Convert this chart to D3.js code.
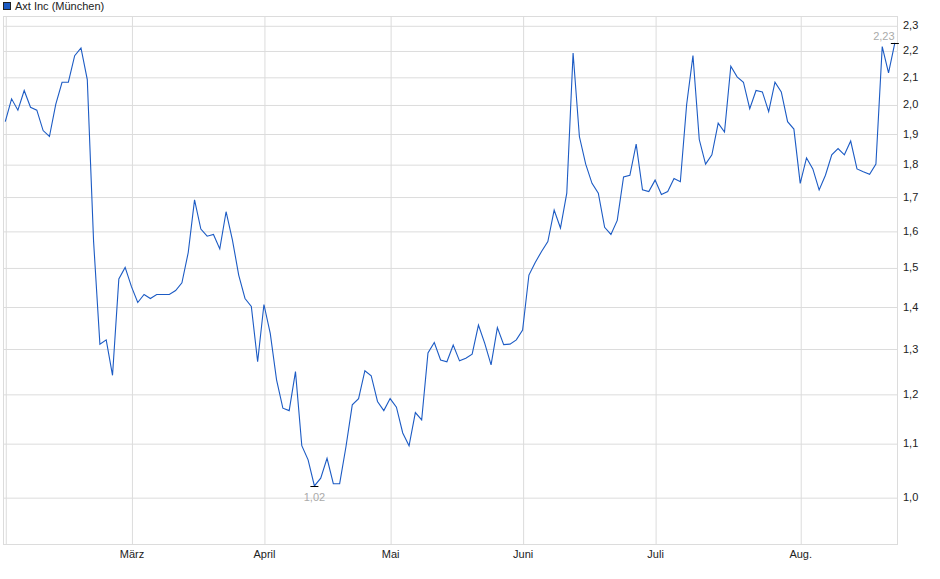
<!DOCTYPE html>
<html>
<head>
<meta charset="utf-8">
<script src="https://cdn.jsdelivr.net/npm/d3@7"></script>
<style>
	body { margin: 0; background: #fff; }
	text { font-family: "Liberation Sans", Arial, sans-serif; }
</style>
</head>
<body>
<svg id="chart" width="940" height="579"></svg>
<script>

// Axt Inc (München), daily closes, Feb 3 - Aug 22 (trading days)
const seriesName = "Axt Inc (München)"
const prices = [
	1.94, 2.02, 1.98, 2.05, 1.99, 1.98, 1.91, 1.89, 2.00, 2.08,
	2.08, 2.18, 2.21, 2.09, 1.57, 1.31, 1.32, 1.24, 1.47, 1.50,
	1.45, 1.41, 1.43, 1.42, 1.43, 1.43, 1.43, 1.44, 1.46, 1.54,
	1.69, 1.605, 1.585, 1.59, 1.55, 1.655, 1.575, 1.48, 1.42, 1.40,
	1.27, 1.405, 1.335, 1.23, 1.17, 1.165, 1.248, 1.095, 1.068, 1.02,
	1.034, 1.071, 1.024, 1.024, 1.093, 1.177, 1.19, 1.25, 1.239, 1.184,
	1.165, 1.19, 1.172, 1.12, 1.095, 1.161, 1.146, 1.29, 1.314, 1.274,
	1.27, 1.308, 1.272, 1.278, 1.287, 1.355, 1.312, 1.263, 1.349, 1.309,
	1.31, 1.32, 1.343, 1.48, 1.513, 1.543, 1.57, 1.66, 1.608, 1.71,
	2.19, 1.89, 1.80, 1.74, 1.71, 1.61, 1.59, 1.63, 1.76, 1.765,
	1.865, 1.72, 1.715, 1.75, 1.706, 1.715, 1.755, 1.745, 2.00, 2.18,
	1.88, 1.80, 1.83, 1.935, 1.905, 2.14, 2.10, 2.08, 1.985, 2.05,
	2.045, 1.975, 2.08, 2.045, 1.94, 1.915, 1.74, 1.82, 1.785, 1.72,
	1.765, 1.83, 1.85, 1.83, 1.875, 1.785, 1.776, 1.768, 1.80, 2.215,
	2.115, 2.23
]
// first trading day of each month, as index into prices
const monthLabels = ["", "März", "April", "Mai", "Juni", "Juli", "Aug."]
const monthStart = [0, 20, 41, 61, 82, 103, 126]
const yTicks = [1.0, 1.1, 1.2, 1.3, 1.4, 1.5, 1.6, 1.7, 1.8, 1.9, 2.0, 2.1, 2.2, 2.3]

const plot = {left: 3, right: 898, top: 16, bottom: 545}
const gridColor = "#dcdcdc"
const lineColor = "#1c5bc4"

let svg = d3.select("#chart")

let x = d3.scaleLinear()
	.domain([-0.36, 141.5])
	.range([plot.left, plot.right])
let y = d3.scaleLog()
	.domain([0.919, 2.338])
	.range([plot.bottom, plot.top])

let fmt = v => d3.format(".1f")(v).replace(".", ",")
let fmt2 = v => d3.format(".2f")(v).replace(".", ",")

// frame
svg.append("rect")
	.attr("x", plot.left + 0.5)
	.attr("y", plot.top + 0.5)
	.attr("width", plot.right - plot.left - 1)
	.attr("height", plot.bottom - plot.top - 1)
	.attr("fill", "none")
	.attr("stroke", gridColor)

// horizontal grid + right axis
let yAxis = d3.axisRight(y)
	.tickValues(yTicks)
	.tickSize(-(plot.right - plot.left))
	.tickPadding(5)
	.tickFormat(fmt)
let gy = svg.append("g")
	.attr("transform", "translate(" + plot.right + ",0)")
	.call(yAxis)
gy.select(".domain").remove()
gy.selectAll("line").attr("stroke", gridColor).attr("transform", "translate(0,0.5)")
gy.selectAll("text")
	.attr("fill", "#222")
	.style("font-size", "11px")
	.style("font-family", "Liberation Sans, Arial, sans-serif")

// vertical month grid + bottom axis
let xAxis = d3.axisBottom(x)
	.tickValues(monthStart)
	.tickSize(-(plot.bottom - plot.top))
	.tickPadding(5)
	.tickFormat((d, i) => monthLabels[i])
let gx = svg.append("g")
	.attr("transform", "translate(0," + plot.bottom + ")")
	.call(xAxis)
gx.select(".domain").remove()
gx.selectAll("line").attr("stroke", gridColor).attr("transform", "translate(0.5,0)")
gx.selectAll("text")
	.attr("fill", "#222")
	.style("font-size", "11px")
	.style("font-family", "Liberation Sans, Arial, sans-serif")

// price line
let line = d3.line()
	.x((d, i) => x(i))
	.y(d => y(d))
svg.append("path")
	.datum(prices)
	.attr("d", line)
	.attr("fill", "none")
	.attr("stroke", lineColor)
	.attr("stroke-width", 1.1)

// min / max markers
let iMax = d3.maxIndex(prices)
let iMin = d3.minIndex(prices)
function marker(i, dy) {
	let px = x(i), py = Math.round(y(prices[i])) + 0.5
	svg.append("line")
		.attr("x1", px - 4).attr("x2", px + 4)
		.attr("y1", py).attr("y2", py)
		.attr("stroke", "#000")
	svg.append("text")
		.attr("x", dy < 0 ? px - 11 : px)
		.attr("y", py + dy)
		.attr("text-anchor", "middle")
		.attr("fill", "#aaa")
		.style("font-size", "11px")
		.text(fmt2(prices[i]))
}
marker(iMax, -4)
marker(iMin, 14)

// legend
svg.append("rect")
	.attr("x", 3.5).attr("y", 2.5)
	.attr("width", 7).attr("height", 7)
	.attr("fill", lineColor)
	.attr("stroke", "#222")
svg.append("text")
	.attr("x", 15)
	.attr("y", 10)
	.attr("fill", "#222")
	.style("font-size", "11px")
	.text(seriesName)

</script>
</body>
</html>
